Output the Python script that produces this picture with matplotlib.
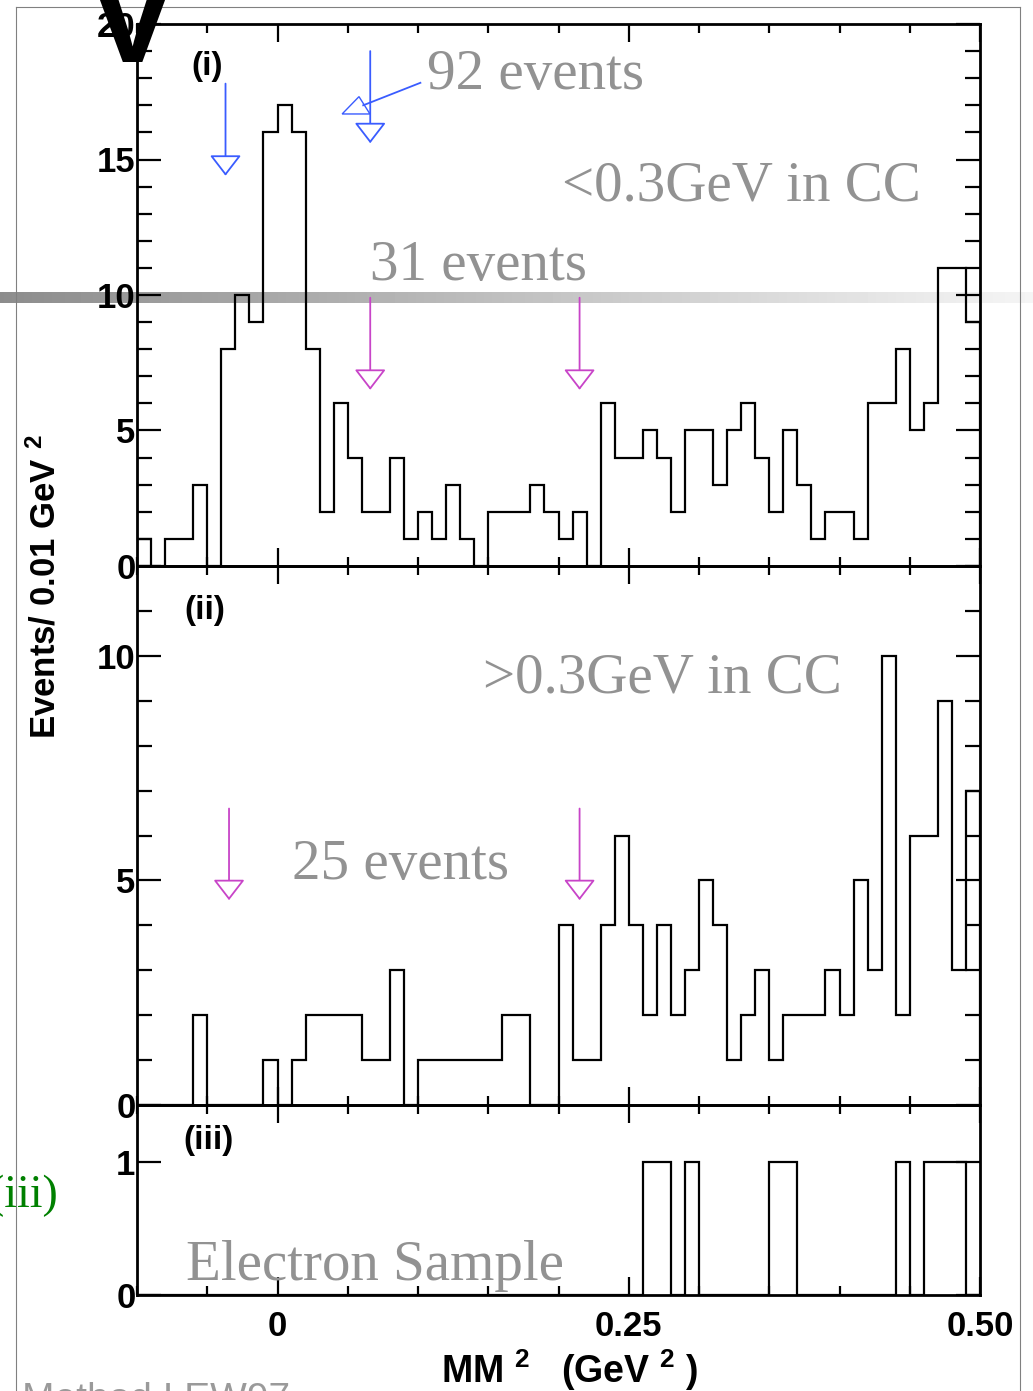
import numpy as np
import matplotlib.pyplot as plt
from matplotlib.patches import Polygon
from matplotlib.lines import Line2D
from matplotlib.ticker import MultipleLocator, FixedLocator

plt.rcParams['font.family'] = ['Liberation Sans', 'DejaVu Sans']
plt.rcParams['font.weight'] = 'bold'
plt.rcParams['mathtext.fontset'] = 'custom'
plt.rcParams['mathtext.rm'] = 'Liberation Sans:bold'
plt.rcParams['mathtext.it'] = 'Liberation Sans:bold'
plt.rcParams['mathtext.bf'] = 'Liberation Sans:bold'
plt.rcParams['mathtext.default'] = 'rm'

# MM^2 binning, 0.01 GeV^2 per bin
lo = -0.10
hi = 0.50
nbins = 60

# (i) <0.3 GeV in CC
counts_low = [1, 0, 1, 1, 3, 0, 8, 10, 9, 16,
              17, 16, 8, 2, 6, 4, 2, 2, 4, 1,
              2, 1, 3, 1, 0, 2, 2, 2, 3, 2,
              1, 2, 0, 6, 4, 4, 5, 4, 2, 5,
              5, 3, 5, 6, 4, 2, 5, 3, 1, 2,
              2, 1, 6, 6, 8, 5, 6, 11, 11, 9]
# (ii) >0.3 GeV in CC
counts_high = [0, 0, 0, 0, 2, 0, 0, 0, 0, 1,
               0, 1, 2, 2, 2, 2, 1, 1, 3, 0,
               1, 1, 1, 1, 1, 1, 2, 2, 0, 0,
               4, 1, 1, 4, 6, 4, 2, 4, 2, 3,
               5, 4, 1, 2, 3, 1, 2, 2, 2, 3,
               2, 5, 3, 10, 2, 6, 6, 9, 3, 7]
# (iii) electron sample
counts_elec = [0, 0, 0, 0, 0, 0, 0, 0, 0, 0,
               0, 0, 0, 0, 0, 0, 0, 0, 0, 0,
               0, 0, 0, 0, 0, 0, 0, 0, 0, 0,
               0, 0, 0, 0, 0, 0, 1, 1, 0, 1,
               0, 0, 0, 0, 0, 1, 1, 0, 0, 0,
               0, 0, 0, 0, 1, 0, 1, 1, 1, 0]

xtick_vals = [0, 0.25, 0.50]
xtick_text = ['0', '0.25', '0.50']

# arrow markers (x position, top, tip)
blue_arrows = [(-0.037, 17.8, 14.4), (0.066, 19.0, 15.6)]
mag_arrows_i = [(0.066, 9.9, 6.5), (0.215, 9.9, 6.5)]
mag_arrows_ii = [(-0.0345, 6.6, 4.56), (0.215, 6.6, 4.56)]

W = 1033.0
H = 1391.0
blue = '#3a5cff'
mag = '#c844c8'
grey = '#929292'
serif = ['Liberation Serif', 'DejaVu Serif']

edges = np.linspace(lo, hi, nbins + 1)

fig = plt.figure(figsize=(W / 100, H / 100), dpi=100)

# background: slide frame and grey gradient bar
bg = fig.add_axes([0, 0, 1, 1], zorder=-5)
bg.set_xlim(0, 1)
bg.set_ylim(0, 1)
bg.axis('off')
grad = np.linspace(0.55, 0.96, 256).reshape(1, -1)
bg.imshow(grad, cmap='gray', vmin=0, vmax=1, aspect='auto',
          extent=[0, 1, 1 - 303 / H, 1 - 292 / H])
fx0 = 16 / W
fx1 = 1020 / W
fy1 = 1 - 7 / H
bg.add_line(Line2D([fx0, fx0], [0, fy1], color='#808080', lw=0.8))
bg.add_line(Line2D([fx0, fx1], [fy1, fy1], color='#808080', lw=0.8))
bg.add_line(Line2D([fx1, fx1], [0, fy1], color='#808080', lw=0.8))

left = 137 / W
width = 843 / W
ax1 = fig.add_axes([left, 1 - 566 / H, width, (566 - 24) / H])
ax2 = fig.add_axes([left, 1 - 1105 / H, width, (1105 - 566) / H])
ax3 = fig.add_axes([left, 1 - 1295 / H, width, (1295 - 1105) / H])


def style(ax, ytop, ymaj, ymin):
    ax.set_facecolor('none')
    ax.set_xlim(lo, hi)
    ax.set_ylim(0, ytop)
    ax.xaxis.set_major_locator(FixedLocator(xtick_vals))
    ax.xaxis.set_minor_locator(MultipleLocator(0.05))
    ax.yaxis.set_major_locator(MultipleLocator(ymaj))
    if ymin:
        ax.yaxis.set_minor_locator(MultipleLocator(ymin))
    ax.tick_params(which='both', direction='in', top=True, right=True,
                   width=1.6, labelsize=25)
    ax.tick_params(axis='y', which='major', length=17, pad=1)
    ax.tick_params(axis='y', which='minor', length=11)
    ax.tick_params(axis='x', which='major', length=13, pad=11)
    ax.tick_params(axis='x', which='minor', length=6.5)
    ax.tick_params(labelbottom=False)
    for s in ax.spines.values():
        s.set_linewidth(2)


style(ax1, 20, 5, 1)
style(ax2, 12, 5, 1)
style(ax3, 1.43, 1, None)
ax3.tick_params(labelbottom=True)
ax3.set_xticklabels(xtick_text)

for ax, c in [(ax1, counts_low), (ax2, counts_high), (ax3, counts_elec)]:
    ax.stairs(c, edges, color='black', lw=1.6, zorder=3)


def arrow(ax, x, y0, y1, col):
    ax.annotate('', xy=(x, y1), xytext=(x, y0),
                arrowprops=dict(arrowstyle='-|>,head_width=1.0,head_length=1.3',
                                mutation_scale=10, ec=col, fc='white', lw=1.3,
                                shrinkA=0, shrinkB=0), zorder=5)


for x, y0, y1 in blue_arrows:
    arrow(ax1, x, y0, y1, blue)
for x, y0, y1 in mag_arrows_i:
    arrow(ax1, x, y0, y1, mag)
for x, y0, y1 in mag_arrows_ii:
    arrow(ax2, x, y0, y1, mag)

# pointer from "92 events"
ax1.plot([0.1017, 0.061], [17.83, 17.0], color=blue, lw=1.3, zorder=5)
ax1.add_patch(Polygon([(0.046, 16.68), (0.0658, 16.68), (0.058, 17.32)],
                      closed=True, fill=False, ec=blue, lw=1.0, zorder=5))

# panel labels and comments
ax1.text(-0.061, 18.45, '(i)', fontsize=24, va='center')
ax2.text(-0.066, 11.0, '(ii)', fontsize=24, va='center')
ax3.text(-0.067, 1.165, '(iii)', fontsize=24, va='center')

big = 41
ax1.text(0.1064, 17.6, '92 events', family=serif, weight='normal',
         fontsize=big, color=grey, va='baseline')
ax1.text(0.2025, 13.5, '<0.3GeV in CC', family=serif, weight='normal',
         fontsize=big, color=grey, va='baseline')
ax1.text(0.066, 10.55, '31 events', family=serif, weight='normal',
         fontsize=big, color=grey, va='baseline')
ax2.text(0.146, 9.18, '>0.3GeV in CC', family=serif, weight='normal',
         fontsize=big, color=grey, va='baseline')
ax2.text(0.0103, 5.04, '25 events', family=serif, weight='normal',
         fontsize=big, color=grey, va='baseline')
ax3.text(-0.065, 0.113, 'Electron Sample', family=serif, weight='normal',
         fontsize=big, color=grey, va='baseline')

fig.text(45 / W, 1 - 587 / H, 'Events/ 0.01 GeV $^2$', rotation=90,
         ha='center', va='center', fontsize=25)
fig.text(570 / W, 1 - 1347 / H, 'MM $^2$   (GeV $^2$ )', ha='center', va='top',
         fontsize=27)

# leftovers of the slide around the plot
fig.text(132 / W, 1 - 62 / H, 'V', fontsize=96, ha='center', va='baseline',
         zorder=10)
fig.text(58 / W, 1 - 1196 / H, '(iii)', family=serif, weight='normal',
         fontsize=33, color='#008000', ha='right', va='center')
fig.text(22 / W, 1 - 1382 / H, 'Method I EW97', fontsize=28, weight='normal',
         color='#9a9a9a', va='top')

fig.savefig('out.png', dpi=100)
